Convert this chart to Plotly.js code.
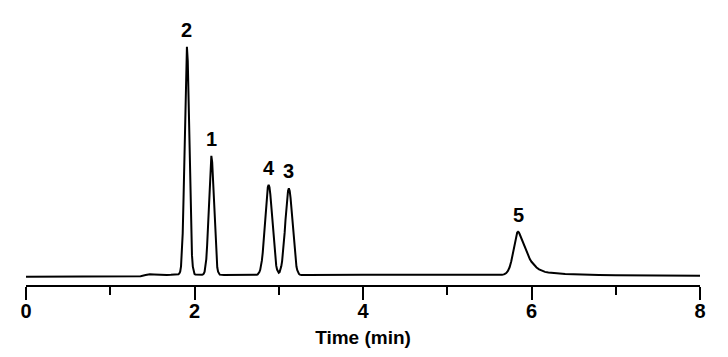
<!DOCTYPE html>
<html>
<head>
<meta charset="utf-8">
<script src="https://cdn.plot.ly/plotly-3.0.1.min.js"></script>
<style>
  html, body { margin: 0; padding: 0; background: #fff; }
  #chart { width: 728px; height: 357px; }
</style>
</head>
<body>
<div id="chart"></div>
<script>
// Chromatogram trace: retention time (min) and detector signal (relative, peak 2 = 100)
const timeMin = [
  0.00, 0.50, 1.00, 1.30, 1.36, 1.42, 1.47, 1.52, 1.57, 1.62, 1.67, 1.72, 1.77, 1.80,
  1.81, 1.82, 1.83, 1.84, 1.85, 1.86, 1.87, 1.88, 1.89, 1.90, 1.91, 1.92, 1.93, 1.94,
  1.95, 1.96, 1.97, 1.98, 1.99, 2.00, 2.01, 2.03, 2.06, 2.09,
  2.10, 2.11, 2.12, 2.13, 2.14, 2.15, 2.16, 2.17, 2.18, 2.19, 2.20, 2.21, 2.22, 2.23,
  2.24, 2.25, 2.26, 2.27, 2.28, 2.29, 2.30, 2.35, 2.45, 2.55, 2.65, 2.72,
  2.74, 2.75, 2.76, 2.77, 2.78, 2.79, 2.80, 2.81, 2.82, 2.83, 2.84, 2.85, 2.86, 2.87,
  2.88, 2.89, 2.90, 2.91, 2.92, 2.93, 2.94, 2.95, 2.96, 2.97, 2.98, 2.99, 3.00, 3.01,
  3.02, 3.03, 3.04, 3.05, 3.06, 3.07, 3.08, 3.09, 3.10, 3.11, 3.12, 3.13, 3.14, 3.15,
  3.16, 3.17, 3.18, 3.19, 3.20, 3.21, 3.22, 3.23, 3.24, 3.25, 3.27, 3.35, 3.60, 4.00,
  4.50, 5.00, 5.40, 5.60, 5.65, 5.68, 5.70, 5.72, 5.74, 5.76, 5.78, 5.80, 5.82, 5.83,
  5.84, 5.85, 5.86, 5.88, 5.90, 5.92, 5.94, 5.96, 5.98, 6.00, 6.03, 6.06, 6.09, 6.12,
  6.16, 6.20, 6.30, 6.40, 6.50, 6.60, 6.80, 7.00, 7.50, 8.00
];
const signal = [
  -0.3, -0.3, -0.3, -0.3, -0.1, 0.4, 0.75, 0.7, 0.5, 0.45, 0.4, 0.5, 0.65, 0.7,
  0.8, 1.1, 1.9, 4.2, 9.2, 18.6, 34.0, 54.5, 76.5, 93.8, 100.0, 93.8, 76.6, 54.6,
  34.0, 18.6, 9.1, 4.1, 1.8, 0.9, 0.6, 0.5, 0.4, 0.5,
  0.7, 1.0, 1.9, 3.8, 7.4, 13.4, 21.8, 32.0, 42.1, 49.6, 52.4, 49.6, 42.1, 32.0,
  21.8, 13.4, 7.4, 3.8, 1.9, 1.0, 0.6, 0.4, 0.4, 0.35, 0.4, 0.45,
  0.55, 0.7, 1.1, 1.7, 2.7, 4.4, 6.8, 10.2, 14.6, 19.8, 25.4, 30.9, 35.6, 38.7,
  39.8, 38.7, 35.6, 30.9, 25.4, 19.8, 14.6, 10.2, 6.8, 4.5, 2.8, 1.8, 1.4, 1.7,
  2.6, 4.2, 6.5, 9.7, 13.9, 18.9, 24.4, 29.7, 34.1, 37.1, 38.2, 37.1, 34.1, 29.7,
  24.4, 18.9, 13.9, 9.7, 6.5, 4.1, 2.5, 1.5, 0.9, 0.6, 0.45, 0.4, 0.5, 0.5,
  0.5, 0.45, 0.4, 0.4, 0.5, 0.8, 1.3, 2.2, 3.8, 6.4, 10.0, 14.2, 17.9, 19.0,
  19.3, 19.0, 18.2, 16.4, 14.3, 12.3, 10.4, 8.8, 7.4, 6.2, 4.8, 3.7, 2.9, 2.3,
  1.8, 1.5, 1.1, 0.9, 0.75, 0.6, 0.45, 0.35, 0.2, 0.15
];

// Peak labels
const peakLabels  = ["2", "1", "4", "3", "5"];
const peakTimes   = [1.91, 2.20, 2.88, 3.12, 5.84];
const peakHeights = [100.0, 52.4, 39.8, 38.2, 19.3];

// Axis ticks
const majorTicks = [0, 2, 4, 6, 8];
const majorTickLabels = ["0", "2", "4", "6", "8"];
const minorTicks = [1, 3, 5, 7];
const xTitle = "Time (min)";

const FONT = "Arial, 'Liberation Sans', sans-serif";

const trace = {
  x: timeMin,
  y: signal,
  type: "scatter",
  mode: "lines",
  line: { color: "#000", width: 2 },
  hoverinfo: "skip"
};

const annotations = peakLabels.map((t, i) => ({
  x: peakTimes[i],
  y: peakHeights[i],
  xref: "x",
  yref: "y",
  text: "<b>" + t + "</b>",
  showarrow: false,
  yanchor: "middle",
  yshift: 17,
  font: { family: FONT, size: 20, color: "#000" }
}));

const layout = {
  width: 728,
  height: 357,
  margin: { l: 26, r: 28, t: 10, b: 72 },
  paper_bgcolor: "#fff",
  plot_bgcolor: "#fff",
  showlegend: false,
  xaxis: {
    range: [0, 8],
    showgrid: false,
    zeroline: false,
    showline: true,
    linecolor: "#000",
    linewidth: 2,
    ticks: "outside",
    ticklen: 13,
    tickwidth: 2,
    tickcolor: "#000",
    tickmode: "array",
    tickvals: majorTicks,
    ticktext: majorTickLabels,
    ticklabelstandoff: -6,
    tickfont: { family: FONT, size: 20, color: "#000", weight: "bold" },
    minor: {
      tickmode: "array",
      tickvals: minorTicks,
      ticks: "outside",
      ticklen: 8,
      tickwidth: 2,
      tickcolor: "#000",
      showgrid: false
    },
    title: { text: "<b>" + xTitle + "</b>", font: { family: FONT, size: 19, color: "#000" }, standoff: 10 }
  },
  yaxis: {
    range: [-3.925, 116.0],
    visible: false,
    showgrid: false,
    zeroline: false
  },
  annotations: annotations
};

Plotly.newPlot("chart", [trace], layout, { displayModeBar: false, staticPlot: true });
</script>
</body>
</html>
